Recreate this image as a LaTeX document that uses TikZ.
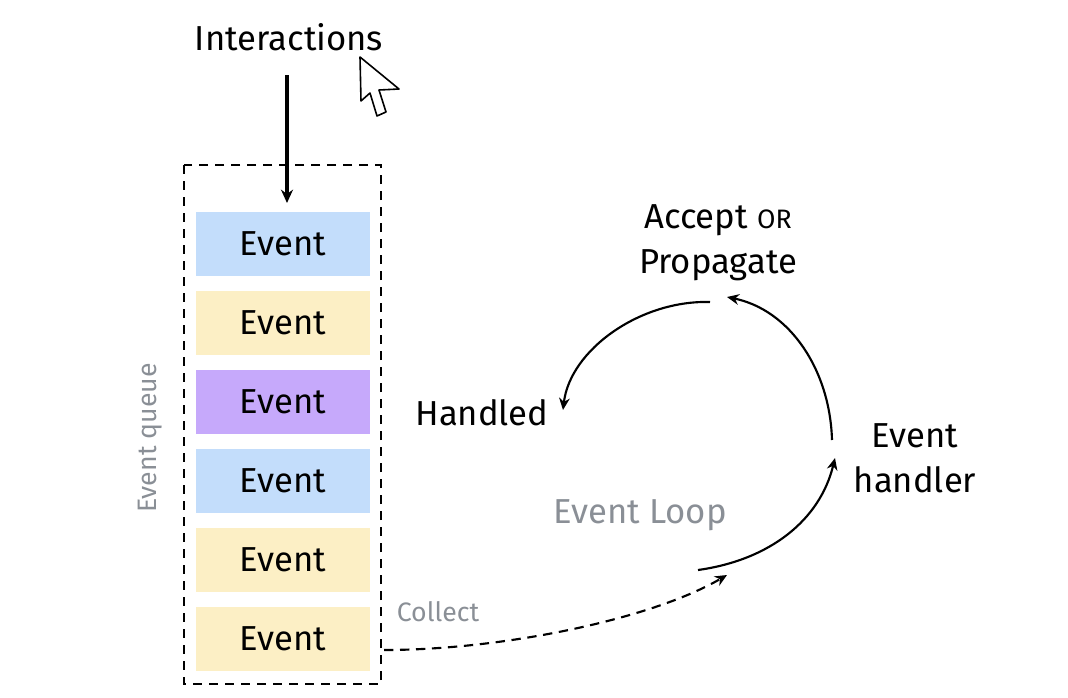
\documentclass[tikz,border=0pt]{standalone}
\usepackage{fontspec}
\setmainfont{Fira Sans}
\usetikzlibrary{arrows.meta}
\definecolor{qblue}{HTML}{C3DDFB}
\definecolor{qyellow}{HTML}{FCEFC5}
\definecolor{qpurple}{HTML}{C6A9FB}
\definecolor{qgray}{HTML}{8A8F96}
\begin{document}
\begin{tikzpicture}[x=0.75pt,y=-0.75pt,
  ev/.style={draw=white,line width=0.5pt,minimum width=131pt,minimum height=49pt,inner sep=0pt,font=\fontsize{26}{28}\selectfont},
  lbl/.style={font=\fontsize{26}{34}\selectfont,align=center},
  arr/.style={line width=1.6pt,-{Stealth[length=9pt,width=8pt]}}]
\useasboundingbox (0,0) rectangle (1068,697);
\draw[line width=1.6pt,dash pattern=on 7pt off 5pt] (184,165) rectangle (381,684);
\node[ev,fill=qblue]   (e1) at (283,244) {Event};
\node[ev,fill=qyellow] (e2) at (283,323) {Event};
\node[ev,fill=qpurple] (e3) at (283,402) {Event};
\node[ev,fill=qblue]   (e4) at (283,481) {Event};
\node[ev,fill=qyellow] (e5) at (283,560) {Event};
\node[ev,fill=qyellow] (e6) at (283,639) {Event};
\node[lbl] (int) at (289,37) {Interactions};
\coordinate (intb) at (287,75);
\draw[line width=2.4pt,-{Stealth[length=10pt,width=9pt]}] (intb) -- (287,203);
\draw[line width=1.2pt,fill=white,line join=round] (360,57) -- (361,101) -- (370,93) -- (377,116) -- (386,112) -- (379,90) -- (399,89) -- cycle;
\node[rotate=90,text=qgray,font=\fontsize{20}{22}\selectfont] (q) at (150,438) {Event queue};
\node[lbl] (acc) at (718,243) {Accept {\fontsize{20}{22}\selectfont OR}\\Propagate};
\node[lbl] (hand) at (482,413) {Handled};
\node[lbl] (eh) at (915,458) {Event\\handler};
\node[text=qgray,font=\fontsize{26}{28}\selectfont] (loop) at (640,515) {Event Loop};
\node[text=qgray,font=\fontsize{20}{22}\selectfont] (col) at (438,612) {Collect};
\coordinate (a1) at (710,302);
\coordinate (h1) at (563,410);
\draw[arr] (a1) .. controls (640,300) and (570,350) .. (h1);
\coordinate (b1) at (832,440);
\coordinate (b2) at (727,297);
\draw[arr] (b1) .. controls (830,370) and (790,310) .. (b2);
\coordinate (c1) at (698,570);
\coordinate (c2) at (835,458);
\draw[arr] (c1) .. controls (770,560) and (820,520) .. (c2);
\coordinate (d1) at (384,650);
\coordinate (d2) at (727,575);
\draw[line width=1.6pt,dash pattern=on 7pt off 5pt,-{Stealth[length=9pt,width=8pt]}] (d1) .. controls (500,650) and (650,620) .. (d2);
\end{tikzpicture}
\end{document}
